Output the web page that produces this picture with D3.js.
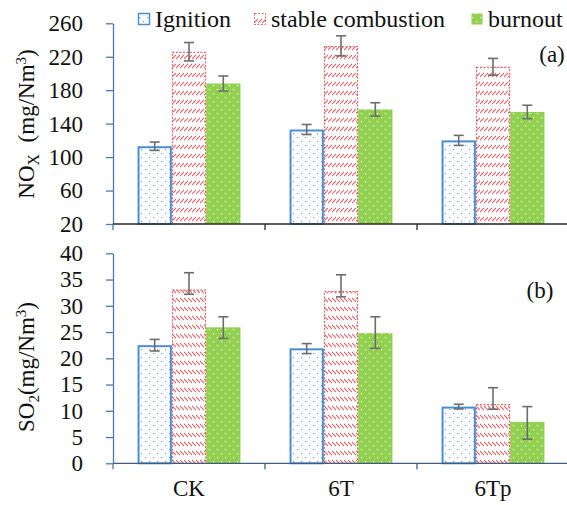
<!DOCTYPE html>
<html>
<head>
<meta charset="utf-8">
<script src="https://cdn.jsdelivr.net/npm/d3@7"></script>
<style>
  body { margin: 0; background: #fff; }
  svg text { font-family: "Liberation Serif", "DejaVu Serif", serif !important; fill: #111; }
</style>
</head>
<body>
<div id="chart"></div>
<script>
// categories and series
var categories = ["CK", "6T", "6Tp"];
var seriesNames = ["Ignition", "stable combustion", "burnout"];

// NOx (mg/Nm3)
var noxIgnition = [113, 133, 120];
var noxStable   = [226, 233, 208];
var noxBurnout  = [188, 157, 154];
var noxErrUp    = [[5, 6, 6], [11, 12, 10], [9, 8, 8]];
var noxErrDown  = [[5, 6, 6], [11, 12, 10], [9, 8, 8]];
var noxTicks    = [20, 60, 100, 140, 180, 220, 260];

// SO2 (mg/Nm3)
var so2Ignition = [22.5, 21.9, 10.8];
var so2Stable   = [33.1, 32.8, 11.3];
var so2Burnout  = [25.9, 24.8, 7.9];
var so2ErrUp    = [[1.1, 0.9, 0.45], [3.2, 3.1, 3.1], [2.0, 3.1, 2.9]];
var so2ErrDown  = [[1.1, 1.0, 0.45], [0.9, 1.1, 1.0], [2.1, 2.9, 3.3]];
var so2Ticks    = [0, 5, 10, 15, 20, 25, 30, 35, 40];

var W = 567, H = 505;
var left = 113, right = 569;
var SERIF = '"Liberation Serif", "DejaVu Serif", serif';

var svg = d3.select("#chart").append("svg").attr("width", W).attr("height", H)
    .attr("font-family", SERIF);
var defs = svg.append("defs");

function serif(sel, size){
    return sel.attr("font-family", SERIF).style("font-family", SERIF).style("font-size", size + "px");
}

// patterns
function dotPattern(id, bg, dot, size){
    var p = defs.append("pattern").attr("id", id).attr("patternUnits", "userSpaceOnUse")
        .attr("width", size).attr("height", size);
    p.append("rect").attr("width", size).attr("height", size).attr("fill", bg);
    p.append("rect").attr("x", 1).attr("y", 1).attr("width", 1.2).attr("height", 1.2).attr("fill", dot);
    p.append("rect").attr("x", 1 + size/2).attr("y", 1 + size/2).attr("width", 1.2).attr("height", 1.2).attr("fill", dot);
}
dotPattern("dotsBlue", "#fff", "#6fa3dc", 8);
dotPattern("dotsGreen", "#92d050", "#ffffff", 8);

function hatchPattern(id, forward){
    var p = defs.append("pattern").attr("id", id).attr("patternUnits", "userSpaceOnUse")
        .attr("width", 4).attr("height", 9);
    p.append("rect").attr("width", 4).attr("height", 9).attr("fill", "#fff");
    p.append("line")
        .attr("x1", 0).attr("x2", 4)
        .attr("y1", forward ? 5 : 1).attr("y2", forward ? 1 : 5)
        .attr("stroke", "#e06a6a").attr("stroke-width", 1.1);
}
hatchPattern("hatchFwd", true);
hatchPattern("hatchBack", false);

var x = d3.scaleBand().domain(categories).range([left, right]);
var xs = d3.scaleBand().domain(seriesNames).range([0, x.bandwidth()]).paddingOuter(0.716);

function panel(cfg){
    var y = d3.scaleLinear().domain(cfg.domain).range([cfg.bottom, cfg.top]);
    var g = svg.append("g");
    var values = [cfg.ign, cfg.stab, cfg.burn];
    var styles = [
        {fill: "url(#dotsBlue)", stroke: "#4a8fd6", sw: 2, dash: null, inset: 1},
        {fill: "url(#" + cfg.hatch + ")", stroke: "#e06a6a", sw: 1.2, dash: "2,1.5", inset: 0.6},
        {fill: "url(#dotsGreen)", stroke: "none", sw: 0, dash: null, inset: 0}
    ];

    var rows = [];
    values.forEach(function(arr, si){
        arr.forEach(function(v, ci){
            rows.push({s: si, c: ci, v: v, up: cfg.errUp[si][ci], dn: cfg.errDown[si][ci]});
        });
    });

    g.selectAll("rect.bar").data(rows).enter().append("rect").attr("class", "bar")
        .attr("x", function(d){ return x(categories[d.c]) + xs(seriesNames[d.s]) + styles[d.s].inset; })
        .attr("y", function(d){ return y(d.v) + styles[d.s].inset; })
        .attr("width", function(d){ return xs.bandwidth() - 2*styles[d.s].inset; })
        .attr("height", function(d){ return y(cfg.domain[0]) - y(d.v) - styles[d.s].inset; })
        .attr("fill", function(d){ return styles[d.s].fill; })
        .attr("stroke", function(d){ return styles[d.s].stroke; })
        .attr("stroke-width", function(d){ return styles[d.s].sw; })
        .attr("stroke-dasharray", function(d){ return styles[d.s].dash; });

    // error bars
    var eb = g.selectAll("g.err").data(rows).enter().append("g").attr("class", "err")
        .attr("stroke", "#6d6d6d").attr("stroke-width", 1.6);
    var cx = function(d){ return x(categories[d.c]) + xs(seriesNames[d.s]) + xs.bandwidth()/2; };
    eb.append("line").attr("x1", cx).attr("x2", cx)
        .attr("y1", function(d){ return y(d.v + d.up); })
        .attr("y2", function(d){ return y(d.v - d.dn); });
    eb.append("line").attr("x1", function(d){ return cx(d) - 5; }).attr("x2", function(d){ return cx(d) + 5; })
        .attr("y1", function(d){ return y(d.v + d.up); }).attr("y2", function(d){ return y(d.v + d.up); });
    eb.append("line").attr("x1", function(d){ return cx(d) - 5; }).attr("x2", function(d){ return cx(d) + 5; })
        .attr("y1", function(d){ return y(d.v - d.dn); }).attr("y2", function(d){ return y(d.v - d.dn); });

    // y axis
    var ya = svg.append("g").attr("transform", "translate(" + left + ",0)")
        .call(d3.axisLeft(y).tickValues(cfg.ticks).tickSize(7).tickPadding(23).tickSizeOuter(0));
    ya.attr("font-family", SERIF).attr("font-size", 23);
    ya.select(".domain").attr("stroke", "#4f78ad").attr("stroke-width", 1.3);
    ya.selectAll(".tick line").attr("stroke", "#4f78ad").attr("stroke-width", 1.3);
    serif(ya.selectAll(".tick text"), 23).attr("fill", "#111");

    // x axis line with category boundary ticks
    var xa = svg.append("g").attr("transform", "translate(0," + cfg.bottom + ")");
    xa.append("line").attr("x1", left).attr("x2", right).attr("stroke", cfg.xColor).attr("stroke-width", 1.3);
    var bounds = categories.map(function(c){ return x(c); }).slice(1);
    xa.selectAll("line.bt").data(bounds).enter().append("line").attr("class", "bt")
        .attr("x1", function(d){ return d; }).attr("x2", function(d){ return d; })
        .attr("y1", 0).attr("y2", 6).attr("stroke", cfg.xColor).attr("stroke-width", 1.3);
    xa.append("line").attr("x1", left).attr("x2", left).attr("y1", 0).attr("y2", 6)
        .attr("stroke", "#4f78ad").attr("stroke-width", 1.3);

    // panel label
    serif(svg.append("text"), 23).attr("x", cfg.labelX).attr("y", cfg.labelY)
        .attr("text-anchor", "middle").text(cfg.label);

    // y title
    var t = serif(svg.append("text"), 23).attr("transform", "translate(34," + cfg.titleY + ") rotate(-90)")
        .attr("text-anchor", "middle");
    cfg.title(t);
    return y;
}

panel({
    domain: [20, 260], top: 23.3, bottom: 224, ticks: noxTicks,
    ign: noxIgnition, stab: noxStable, burn: noxBurnout,
    errUp: noxErrUp, errDown: noxErrDown, hatch: "hatchFwd",
    xColor: "#2a2a2a", label: "(a)", labelX: 552, labelY: 62, titleY: 124,
    title: function(t){
        t.append("tspan").text("NO");
        t.append("tspan").attr("dy", 5).style("font-size", "16px").text("X");
        t.append("tspan").attr("dy", -5).text("\u00a0 (mg/Nm");
        t.append("tspan").attr("dy", -8).style("font-size", "15px").text("3");
        t.append("tspan").attr("dy", 8).text(")");
    }
});

panel({
    domain: [0, 40], top: 253.3, bottom: 463.3, ticks: so2Ticks,
    ign: so2Ignition, stab: so2Stable, burn: so2Burnout,
    errUp: so2ErrUp, errDown: so2ErrDown, hatch: "hatchBack",
    xColor: "#3f5c85", label: "(b)", labelX: 540, labelY: 298, titleY: 367,
    title: function(t){
        t.append("tspan").text("SO");
        t.append("tspan").attr("dy", 5).style("font-size", "15px").text("2");
        t.append("tspan").attr("dy", -5).text("(mg/Nm");
        t.append("tspan").attr("dy", -8).style("font-size", "15px").text("3");
        t.append("tspan").attr("dy", 8).text(")");
    }
});

// category labels
serif(svg.selectAll("text.cat").data(categories).enter().append("text").attr("class", "cat"), 23)
    .attr("x", function(d){ return x(d) + x.bandwidth()/2; })
    .attr("y", 496).attr("text-anchor", "middle")
    .text(function(d){ return d; });

// legend
var legendX = [138, 254, 471];
var legendFill = ["url(#dotsBlue)", "url(#hatchFwd)", "url(#dotsGreen)"];
var legendStroke = ["#4a8fd6", "#e06a6a", "none"];
var lg = svg.selectAll("g.leg").data(seriesNames).enter().append("g").attr("class", "leg")
    .attr("transform", function(d, i){ return "translate(" + legendX[i] + ",0)"; });
lg.append("rect").attr("x", 0.5).attr("y", 13.5).attr("width", 11).attr("height", 11)
    .attr("fill", function(d, i){ return legendFill[i]; })
    .attr("stroke", function(d, i){ return legendStroke[i]; })
    .attr("stroke-width", function(d, i){ return i === 0 ? 1.5 : 1; })
    .attr("stroke-dasharray", function(d, i){ return i === 1 ? "2,1.5" : null; });
serif(lg.append("text"), 24).attr("x", 17).attr("y", 27).text(function(d){ return d; });
</script>
</body>
</html>
